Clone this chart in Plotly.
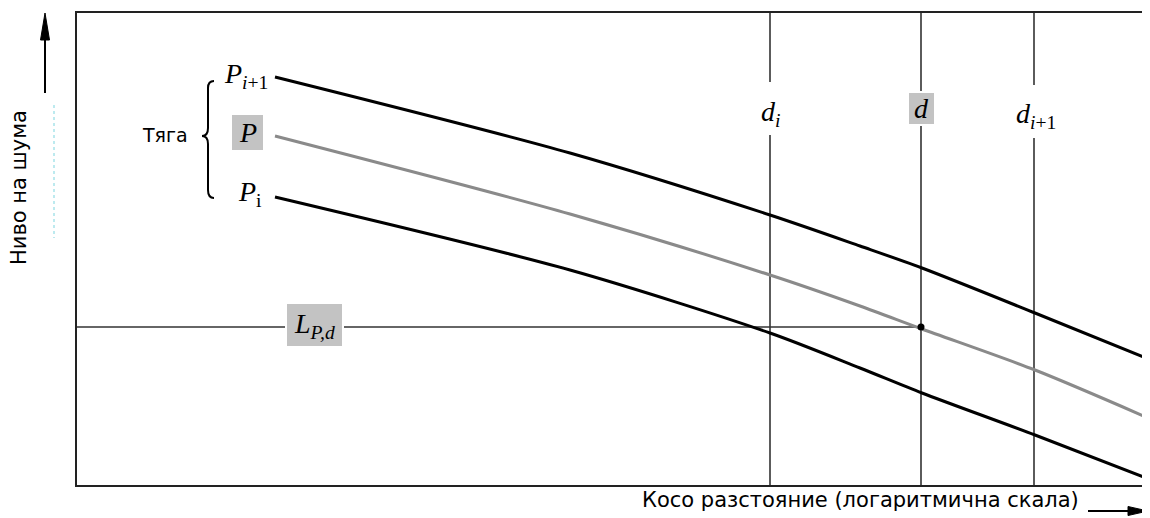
import plotly.graph_objects as go

# Noise level vs slant distance (log scale), arbitrary units
dist = [19.8, 49.3, 69.3, 78.3, 84.5, 95.8, 106.9]
level_p_up = [40.8, 33.2, 27.0, 23.9, 21.7, 17.2, 12.7]   # P_{i+1}
level_p = [34.9, 27.1, 21.0, 17.9, 15.6, 11.5, 6.8]       # P (interpolated thrust)
level_p_low = [28.8, 21.5, 15.2, 11.7, 9.2, 5.0, 0.7]     # P_i

d_marks = [69.3, 84.4, 95.7]          # d_i, d, d_{i+1}
d_labels = ["<i>d</i><sub><i>i</i></sub>", "<i>d</i>", "<i>d</i><sub><i>i</i>+1</sub>"]
L_level = 15.8                         # L_{P,d}
point_d = (84.4, 15.8)

X_MAX, Y_MAX = 107.3, 47.2

# the page adds an 8px body margin, so the figure is made 8px smaller
OFF = 8
W, H = 1150 - OFF, 518 - OFF
BOX_L, BOX_R, BOX_T, BOX_B = 77, 1150, 13, 485   # plot frame on screen


def pxx(p):
    # screen pixel -> paper x
    return (p - BOX_L) / (BOX_R - BOX_L)


def pxy(p):
    return (BOX_B - p) / (BOX_B - BOX_T)


SERIF = "Liberation Serif"
SANS = "DejaVu Sans"

fig = go.Figure()

for ys, col in [(level_p_up, "black"), (level_p, "#8a8a8a"), (level_p_low, "black")]:
    fig.add_trace(go.Scatter(x=dist, y=ys, mode="lines",
                             line=dict(color=col, width=3, shape="spline", smoothing=0.8),
                             hoverinfo="skip"))

shapes = []
# vertical distance lines
for xd in d_marks:
    shapes.append(dict(type="line", xref="x", yref="y", x0=xd, x1=xd, y0=0, y1=Y_MAX,
                       line=dict(color="#333", width=1.6), layer="below"))
# horizontal level line
shapes.append(dict(type="line", xref="x", yref="y", x0=0, x1=point_d[0], y0=L_level, y1=L_level,
                   line=dict(color="#333", width=1.6), layer="below"))

# white gaps behind d_i and d_{i+1} labels
for xd, y0, y1 in [(d_marks[0], 35.0, 40.3), (d_marks[2], 34.7, 40.0)]:
    shapes.append(dict(type="rect", xref="x", yref="y", x0=xd - 1.0, x1=xd + 1.0, y0=y0, y1=y1,
                       fillcolor="white", line=dict(width=0), layer="below"))

# gray label boxes
for x0, x1, y0, y1 in [(15.4, 18.7, 33.4, 37.1),      # P
                       (83.1, 85.8, 36.0, 39.3),      # d
                       (20.9, 26.6, 13.8, 18.2)]:     # L_{P,d}
    shapes.append(dict(type="rect", xref="x", yref="y", x0=x0, x1=x1, y0=y0, y1=y1,
                       fillcolor="#c3c3c3", line=dict(color="white", width=2)))

# brace
shapes.append(dict(type="path", xref="x", yref="y",
                   path="M 13.7,40.4 Q 13.1,40.4 13.1,39.7 L 13.1,35.7 Q 13.1,34.9 12.5,34.9 "
                        "Q 13.1,34.9 13.1,34.1 L 13.1,29.5 Q 13.1,28.7 13.7,28.7",
                   line=dict(color="black", width=2)))

# axis arrows
shapes.append(dict(type="line", xref="paper", yref="paper", x0=pxx(45), x1=pxx(45),
                   y0=pxy(93), y1=pxy(30), line=dict(color="black", width=2)))
shapes.append(dict(type="path", xref="paper", yref="paper",
                   path=f"M {pxx(45)},{pxy(13)} L {pxx(49.5)},{pxy(40)} L {pxx(40.5)},{pxy(40)} Z",
                   fillcolor="black", line=dict(color="black", width=1)))
shapes.append(dict(type="line", xref="paper", yref="paper", x0=pxx(1088), x1=pxx(1132),
                   y0=pxy(511), y1=pxy(511), line=dict(color="black", width=2)))
shapes.append(dict(type="path", xref="paper", yref="paper",
                   path=f"M {pxx(1148)},{pxy(511)} L {pxx(1128)},{pxy(506.5)} L {pxx(1128)},{pxy(515.5)} Z",
                   fillcolor="black", line=dict(color="black", width=1)))
# faint dotted artefact next to y label
shapes.append(dict(type="line", xref="paper", yref="paper", x0=pxx(54), x1=pxx(54),
                   y0=pxy(105), y1=pxy(238), line=dict(color="#a8e4ea", width=1.5, dash="dot")))

fig.add_trace(go.Scatter(x=[point_d[0]], y=[point_d[1]], mode="markers",
                         marker=dict(color="black", size=7), hoverinfo="skip"))

ann = []
# curve labels
ann.append(dict(x=16.9, y=41.0, text="<i>P</i><sub><i>i</i>+1</sub>", font=dict(family=SERIF, size=28)))
ann.append(dict(x=17.05, y=35.25, text="<i>P</i>", font=dict(family=SERIF, size=28)))
ann.append(dict(x=17.3, y=29.2, text="<i>P</i><sub>i</sub>", font=dict(family=SERIF, size=28)))
ann.append(dict(x=8.8, y=35.0, text="Тяга", font=dict(family=SANS, size=19)))
# distance labels
for xd, lab, yl in zip(d_marks, d_labels, [37.2, 37.7, 37.0]):
    ann.append(dict(x=xd + (0.2 if lab.endswith("+1</sub>") else 0), y=yl, text=lab,
                    font=dict(family=SERIF, size=28)))
ann.append(dict(x=23.75, y=16.0, text="<i>L</i><sub><i>P,d</i></sub>", font=dict(family=SERIF, size=28)))
for a in ann:
    a.update(xref="x", yref="y")

ann.append(dict(x=pxx(19), y=pxy(188), xref="paper", yref="paper", text="Ниво на шума",
                textangle=-90, font=dict(family=SANS, size=21)))
ann.append(dict(x=pxx(860), y=pxy(500), xref="paper", yref="paper",
                text="Косо разстояние (логаритмична скала)",
                font=dict(family=SANS, size=21)))
for a in ann:
    a.update(showarrow=False, xanchor="center", yanchor="middle")

fig.update_layout(width=W, height=H,
                  margin=dict(l=BOX_L - OFF, r=0, t=BOX_T - OFF, b=518 - BOX_B),
                  paper_bgcolor="white", plot_bgcolor="white", showlegend=False,
                  shapes=shapes, annotations=ann, font=dict(color="black"),
                  xaxis=dict(range=[0, X_MAX], showline=True, mirror=True, linecolor="#222",
                             linewidth=2, showgrid=False, zeroline=False, showticklabels=False,
                             ticks=""),
                  yaxis=dict(range=[0, Y_MAX], showline=True, linecolor="#222", linewidth=2,
                             showgrid=False, zeroline=False, showticklabels=False, ticks=""))

fig.write_html("out.html")
